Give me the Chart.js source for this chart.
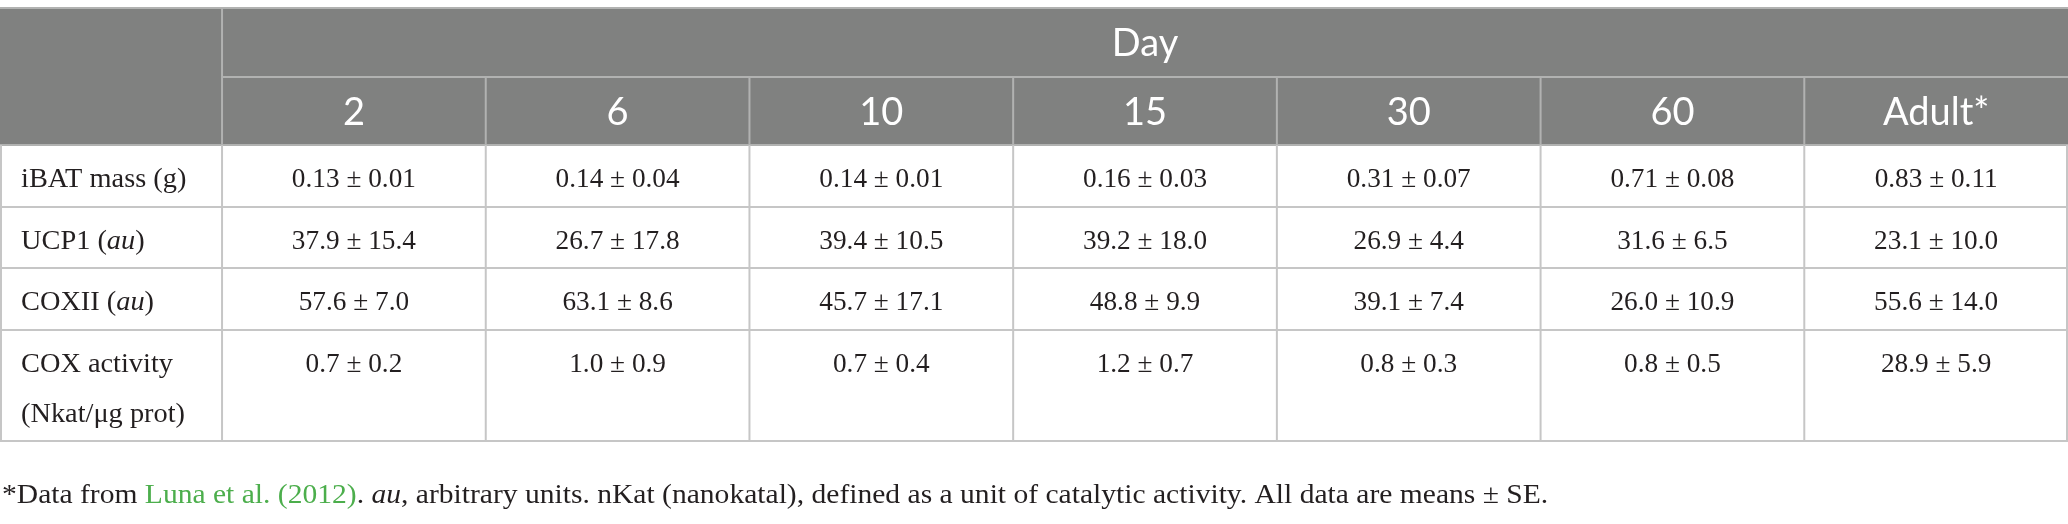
<!DOCTYPE html>
<html>
<head>
<meta charset="utf-8">
<script src="https://cdn.jsdelivr.net/npm/chart.js@4.4.1/dist/chart.umd.min.js"></script>
<style>
  html, body { margin: 0; padding: 0; background: #fff; }
  #wrap { width: 2068px; height: 524px; position: relative; }
</style>
</head>
<body>
<div id="wrap"><canvas id="table-chart"></canvas></div>
<script>
// Datos de la tabla
const days = ['2', '6', '10', '15', '30', '60', 'Adult*'];
const rowLabels = ['iBAT mass (g)', 'UCP1 (_au_)', 'COXII (_au_)', 'COX activity\n(Nkat/μg prot)'];
const ibatMean = [0.13, 0.14, 0.14, 0.16, 0.31, 0.71, 0.83];
const ibatSE = [0.01, 0.04, 0.01, 0.03, 0.07, 0.08, 0.11];
const ucp1Mean = [37.9, 26.7, 39.4, 39.2, 26.9, 31.6, 23.1];
const ucp1SE = [15.4, 17.8, 10.5, 18.0, 4.4, 6.5, 10.0];
const coxiiMean = [57.6, 63.1, 45.7, 48.8, 39.1, 26.0, 55.6];
const coxiiSE = [7.0, 8.6, 17.1, 9.9, 7.4, 10.9, 14.0];
const coxActMean = [0.7, 1.0, 0.7, 1.2, 0.8, 0.8, 28.9];
const coxActSE = [0.2, 0.9, 0.4, 0.7, 0.3, 0.5, 5.9];
const decimals = [2, 1, 1, 1];
const headerTitle = 'Day';
const footnote = '*Data from |Luna et al. (2012)|. _au_, arbitrary units. nKat (nanokatal), defined as a unit of catalytic activity. All data are means ± SE.';

// Layout (pixels en el eje y oculto, columnas en el eje x oculto)
const rowEdges = [8, 77, 145, 207, 268, 330, 441]; // borde superior, 2 filas de cabecera, 4 filas
const labelColWidth = 0.842; // ancho de la primera columna relativo a una columna de día
const serif = '"Liberation Serif", "DejaVu Serif", serif';
const sans = 'Lato, "Open Sans", sans-serif';

const series = [
  { mean: ibatMean, se: ibatSE },
  { mean: ucp1Mean, se: ucp1SE },
  { mean: coxiiMean, se: coxiiSE },
  { mean: coxActMean, se: coxActSE }
];

// texto con partes en cursiva (_..._) y enlaces (|...|)
function parseRich(str) {
  const parts = [];
  let italic = false, link = false, buf = '';
  for (const ch of str) {
    if (ch === '_' || ch === '|') {
      if (buf) parts.push({ t: buf, italic, link });
      buf = '';
      if (ch === '_') italic = !italic; else link = !link;
    } else buf += ch;
  }
  if (buf) parts.push({ t: buf, italic, link });
  return parts;
}

// sx: estiramiento horizontal (la fuente original es más ancha que Times)
function drawRich(ctx, str, x, y, size, align, sx = 1) {
  const parts = parseRich(str);
  const fontFor = p => (p.italic ? 'italic ' : '') + size + 'px ' + serif;
  let total = 0;
  parts.forEach(p => { ctx.font = fontFor(p); total += ctx.measureText(p.t).width; });
  ctx.save();
  ctx.translate(align === 'center' ? x - total * sx / 2 : x, y);
  ctx.scale(sx, 1);
  let cx = 0;
  ctx.textAlign = 'left';
  ctx.textBaseline = 'alphabetic';
  parts.forEach(p => {
    ctx.font = fontFor(p);
    ctx.fillStyle = p.link ? '#4cae4c' : '#231f20';
    ctx.fillText(p.t, cx, 0);
    cx += ctx.measureText(p.t).width;
  });
  ctx.restore();
}

const tablePlugin = {
  id: 'tablePlugin',
  afterDraw(chart) {
    const ctx = chart.ctx;
    const xs = chart.scales.x;
    const ys = chart.scales.y;
    const left = xs.getPixelForValue(-labelColWidth);
    const right = xs.getPixelForValue(days.length);
    const colX = i => xs.getPixelForValue(i);
    const rowY = i => ys.getPixelForValue(rowEdges[i]);

    ctx.save();
    // cabecera gris
    ctx.fillStyle = '#808180';
    ctx.fillRect(left, rowY(0), right - left, rowY(2) - rowY(0));

    ctx.lineWidth = 2;
    const hLine = (x1, x2, y, color) => {
      ctx.strokeStyle = color;
      ctx.beginPath(); ctx.moveTo(x1, y); ctx.lineTo(x2, y); ctx.stroke();
    };
    const vLine = (x, y1, y2, color) => {
      ctx.strokeStyle = color;
      ctx.beginPath(); ctx.moveTo(x, y1); ctx.lineTo(x, y2); ctx.stroke();
    };
    const headLine = '#b1b2b1';
    const bodyLine = '#c6c6c6';

    // líneas de la cabecera
    hLine(left, right, rowY(0), headLine);
    hLine(colX(0), right, rowY(1), headLine);
    vLine(colX(0), rowY(0), rowY(2), headLine);
    for (let i = 1; i < days.length; i++) vLine(colX(i), rowY(1), rowY(2), headLine);
    hLine(left, right, rowY(2), headLine);

    // líneas del cuerpo
    for (let r = 3; r < rowEdges.length; r++) hLine(left, right, rowY(r), bodyLine);
    vLine(left + 1, rowY(2), rowY(rowEdges.length - 1), bodyLine);
    vLine(right - 1, rowY(2), rowY(rowEdges.length - 1), bodyLine);
    for (let i = 0; i < days.length; i++) vLine(colX(i), rowY(2), rowY(rowEdges.length - 1), bodyLine);

    // texto de la cabecera
    ctx.fillStyle = '#ffffff';
    ctx.font = '38px ' + sans;
    ctx.textAlign = 'center';
    ctx.textBaseline = 'alphabetic';
    ctx.fillText(headerTitle, (colX(0) + right) / 2, rowY(0) + 48);
    days.forEach((d, i) => ctx.fillText(d, (colX(i) + colX(i + 1)) / 2, rowY(1) + 48));

    // etiquetas de filas
    rowLabels.forEach((label, r) => {
      label.split('\n').forEach((line, k) => {
        drawRich(ctx, line, left + 21, rowY(r + 2) + 42 + k * 50, 27, 'left', 1.05);
      });
    });

    // valores: cada celda es un punto del dataset
    chart.data.datasets.forEach((ds, r) => {
      const meta = chart.getDatasetMeta(r);
      meta.data.forEach((pt, i) => {
        const s = series[r];
        const txt = s.mean[i].toFixed(decimals[r]) + ' ± ' + s.se[i].toFixed(decimals[r]);
        drawRich(ctx, txt, pt.x, pt.y, 27, 'center', 1.01);
      });
    });

    // nota al pie
    drawRich(ctx, footnote, left + 2, ys.getPixelForValue(503), 27, 'left', 1.095);
    ctx.restore();
  }
};

const datasets = series.map((s, r) => ({
  label: rowLabels[r],
  data: days.map((d, i) => ({ x: i + 0.5, y: rowEdges[r + 2] + 42 })),
  pointRadius: 0,
  pointHoverRadius: 0,
  showLine: false
}));

new Chart(document.getElementById('table-chart'), {
  type: 'scatter',
  data: { datasets },
  options: {
    responsive: true,
    maintainAspectRatio: false,
    animation: false,
    layout: { padding: 0 },
    events: [],
    plugins: { legend: { display: false }, tooltip: { enabled: false } },
    scales: {
      x: { type: 'linear', display: false, min: -labelColWidth, max: days.length },
      y: { type: 'linear', display: false, reverse: true, min: 0, max: 524 }
    }
  },
  plugins: [tablePlugin]
});
</script>
</body>
</html>
